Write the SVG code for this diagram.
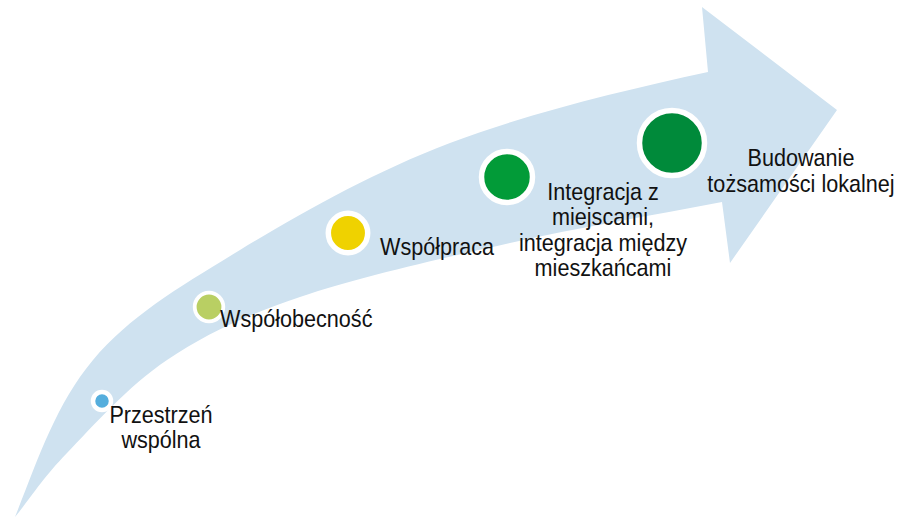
<svg xmlns="http://www.w3.org/2000/svg" width="899" height="517" viewBox="0 0 899 517">
  <style>
    .band { fill: #cfe2f0; }
    .dot { stroke: #ffffff; }
    .lbl { font-family: "Liberation Sans", Arial, sans-serif; font-size: 24px; fill: #111111; }
    .mid { text-anchor: middle; }
  </style>

  <!-- curved progress arrow -->
  <g id="arrow">
    <path class="band" d="M 15,517
      C 37,462 55.5,404.5 93,360
      C 130.5,315.5 180.5,286.2 240,250
      C 299.5,213.8 372,172.7 450,143
      C 528,113.3 624,90.3 708,72
      L 702,7 L 837,110 L 730,263 L 722,202
      C 651.3,215.7 580.3,227.2 510,243
      C 439.7,258.8 357.2,277.5 300,297
      C 242.8,316.5 205.8,334 167,360
      C 128.2,386 92.3,426.8 67,453
      C 41.7,479.2 32.3,495.7 15,517 Z"/>
  </g>

  <g id="connectors"></g>

  <g id="stage1">
    <circle class="dot" cx="102" cy="401" r="9" fill="#55aedd" stroke-width="4.5"/>
    <text class="lbl mid" transform="translate(161,423) scale(0.9,1)"><tspan x="0" y="0">Przestrzeń</tspan><tspan x="0" y="25">wspólna</tspan></text>
  </g>

  <g id="stage2">
    <circle class="dot" cx="209" cy="307" r="14.3" fill="#b9cf63" stroke-width="3.8"/>
    <text class="lbl" transform="translate(220,327) scale(0.9,1)">Współobecność</text>
  </g>

  <g id="stage3">
    <circle class="dot" cx="348" cy="233" r="19.7" fill="#efd200" stroke-width="5.5"/>
    <text class="lbl" transform="translate(380,255) scale(0.9,1)">Współpraca</text>
  </g>

  <g id="stage4">
    <circle class="dot" cx="507" cy="177" r="25.5" fill="#029b38" stroke-width="5.5"/>
    <text class="lbl mid" transform="translate(603,200) scale(0.9,1)"><tspan x="0" y="0">Integracja z</tspan><tspan x="0" y="25.3">miejscami,</tspan><tspan x="0" y="50.6">integracja między</tspan><tspan x="0" y="75.9">mieszkańcami</tspan></text>
  </g>

  <g id="stage5">
    <circle class="dot" cx="672" cy="143" r="32.5" fill="#008a3a" stroke-width="5.5"/>
    <text class="lbl mid" transform="translate(801,166) scale(0.9,1)"><tspan x="0" y="0">Budowanie</tspan><tspan x="0" y="26.5">tożsamości lokalnej</tspan></text>
  </g>
</svg>
